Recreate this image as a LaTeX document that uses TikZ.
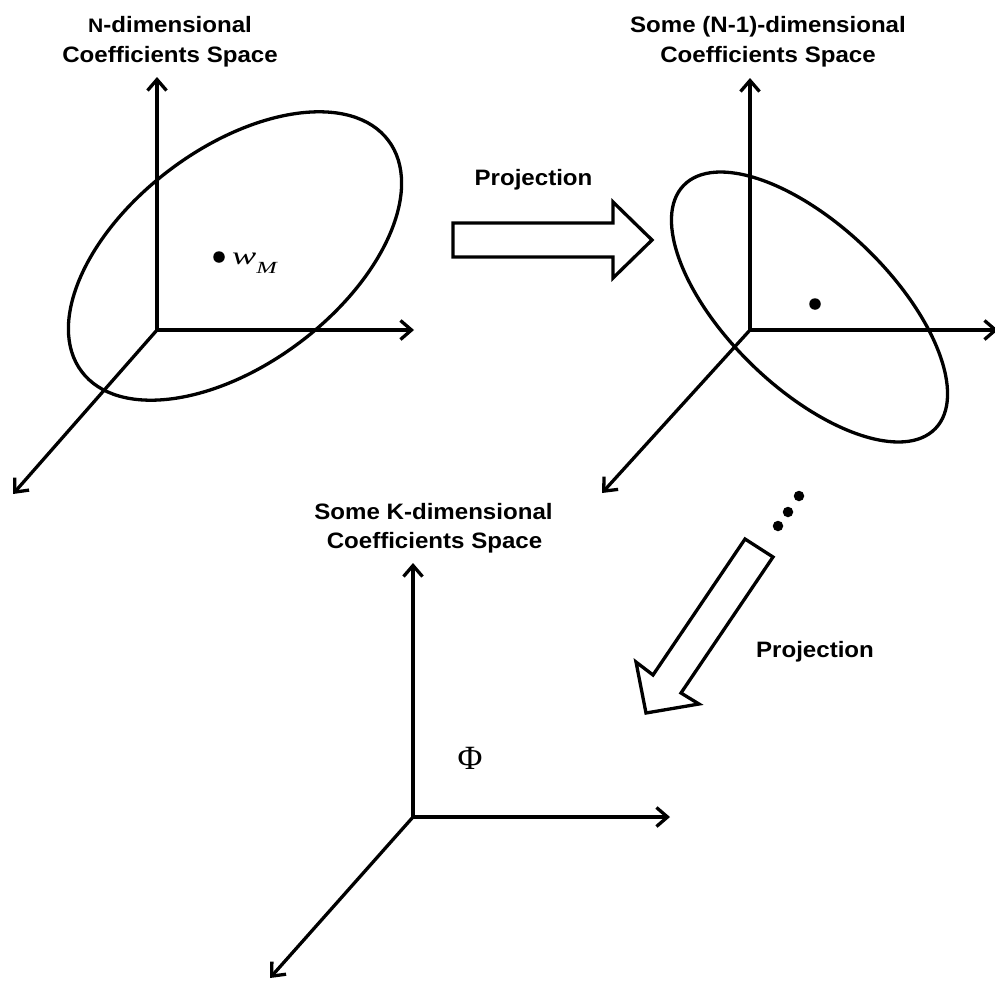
\documentclass[tikz,border=0pt]{standalone}
\usepackage{graphicx}
\usepackage{fontspec}
\setmainfont{Liberation Sans}
\newfontfamily\timesfont{Liberation Serif}
\usetikzlibrary{arrows.meta}
% headings are set slightly wide
\newcommand\wide[1]{\scalebox{1.08}[1]{#1}}
\begin{document}
\begin{tikzpicture}[x=1pt,y=-1pt,
  axis/.style={line width=3.3pt,-{Straight Barb[length=11pt,width=19pt]}},
  curve/.style={line width=3.3pt},
  hollow/.style={line width=3.3pt,line join=miter},
  head/.style={font=\fontsize{22.3}{26}\selectfont\bfseries,anchor=base,inner sep=0pt},
  dotm/.style={circle,fill=black,inner sep=0pt,minimum size=11.5pt},
  dots/.style={circle,fill=black,inner sep=0pt,minimum size=10.5pt}]
\useasboundingbox (0,0) rectangle (995,982);

% ---------- N-dimensional space ----------
\coordinate (o1) at (157,330);
\coordinate (z1) at (157,77);
\coordinate (x1) at (414,330);
\coordinate (y1) at (13,494);
\draw[axis] (o1) -- (z1);
\draw[axis] (o1) -- (x1);
\draw[axis] (o1) -- (y1);
\draw[curve,rotate around={37:(235,256)}] (235,256) ellipse (192 and 108);
\node[dotm] (d1) at (219,257) {};
\node[anchor=base west,inner sep=0pt] (wm) at (232,264)
  {\scalebox{1.45}[1]{\timesfont\itshape\fontsize{25}{25}\selectfont w\raisebox{-9pt}{\fontsize{17}{17}\selectfont M}}};
\node[head] (h1a) at (170,33) {\wide{{\fontsize{19.5}{26}\selectfont N}-dimensional}};
\node[head] (h1b) at (170,63) {\wide{Coefficients Space}};

% ---------- (N-1)-dimensional space ----------
\coordinate (o2) at (750,330);
\coordinate (z2) at (750,78);
\coordinate (x2) at (998,330);
\coordinate (y2) at (602,493);
\draw[axis] (o2) -- (z2);
\draw[axis] (o2) -- (x2);
\draw[axis] (o2) -- (y2);
\draw[curve,rotate around={-44:(809.5,307)}] (809.5,307) ellipse (175 and 81.5);
\node[dotm] (d2) at (815,304) {};
\node[head] (h2a) at (768,33) {\wide{Some (N-1)-dimensional}};
\node[head] (h2b) at (768,63) {\wide{Coefficients Space}};

% ---------- K-dimensional space ----------
\coordinate (o3) at (413,817);
\coordinate (z3) at (413,563);
\coordinate (x3) at (670,817);
\coordinate (y3) at (270,978);
\draw[axis] (o3) -- (z3);
\draw[axis] (o3) -- (x3);
\draw[axis] (o3) -- (y3);
\node[anchor=base,inner sep=0pt] (phi) at (470,769)
  {\timesfont\fontsize{34}{34}\selectfont Φ};
\node[head] (h3a) at (433.5,519) {\wide{Some K-dimensional}};
\node[head] (h3b) at (434.5,548) {\wide{Coefficients Space}};

% ---------- projection arrows ----------
\draw[hollow] (453,223) -- (613,223) -- (613,202) -- (652,240)
  -- (613,278) -- (613,257) -- (453,257) -- cycle;
\node[head] (p1) at (533.5,185) {\wide{Projection}};

\draw[hollow] (745,539) -- (773,557) -- (681,693) -- (699,704)
  -- (646,713) -- (636,662) -- (653,675) -- cycle;
\node[head] (p2) at (815,657) {\wide{Projection}};

\node[dots] (e1) at (778,526) {};
\node[dots] (e2) at (788,512) {};
\node[dots] (e3) at (799,496) {};
\end{tikzpicture}
\end{document}
